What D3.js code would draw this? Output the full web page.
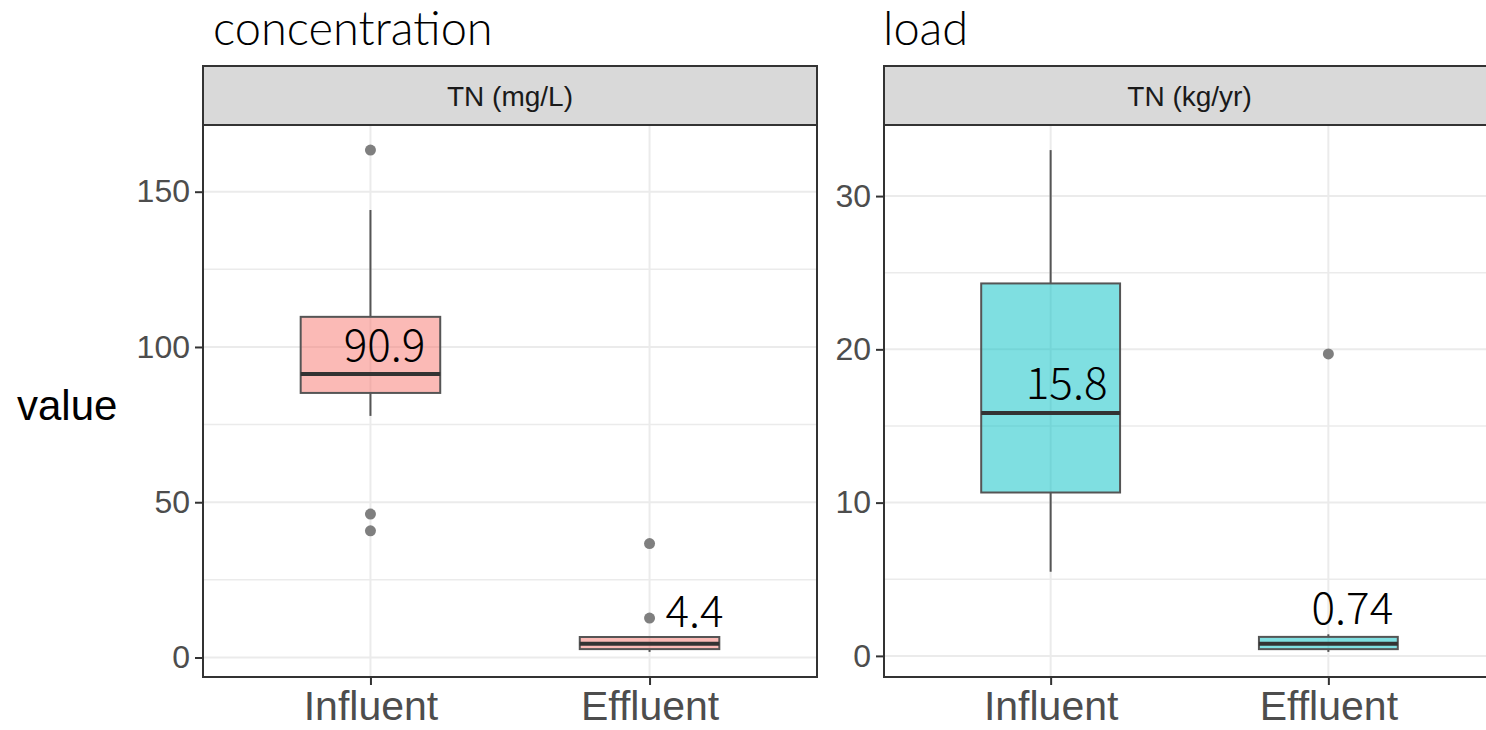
<!DOCTYPE html>
<html>
<head>
<meta charset="utf-8">
<script src="https://cdn.jsdelivr.net/npm/d3@7"></script>
<style>
  body { margin: 0; background: #fff; }
  svg { display: block; }
</style>
</head>
<body>
<svg id="chart" width="1486" height="730"></svg>
<script>
// ---------- DATA ----------
const categories = ["Influent", "Effluent"];

// concentration panel: TN (mg/L)
const concQ1 = [85.2, 2.7];
const concMedian = [91.3, 4.4];
const concQ3 = [109.7, 6.6];
const concWhiskerLow = [77.8, 1.8];
const concWhiskerHigh = [144.1, 6.9];
const concOutliers = [[163.4, 46.2, 40.8], [36.7, 12.7]];
const concLabels = ["90.9", "4.4"];
const concTicks = [0, 50, 100, 150];

// load panel: TN (kg/yr)
const loadQ1 = [10.66, 0.44];
const loadMedian = [15.84, 0.80];
const loadQ3 = [24.3, 1.24];
const loadWhiskerLow = [5.49, 0.26];
const loadWhiskerHigh = [33.0, 1.41];
const loadOutliers = [[], [19.7]];
const loadLabels = ["15.8", "0.74"];
const loadTicks = [0, 10, 20, 30];

// ---------- LAYOUT ----------
const svg = d3.select("#chart");
const panelTop = 125, panelBottom = 677, stripTop = 66;
const CJK = "'Noto Sans CJK SC', 'Noto Sans', sans-serif";
const TITLE = "Lato, 'Noto Sans', sans-serif";
const SANS = "'Liberation Sans', Arial, sans-serif";

const panels = [
  { title: "concentration", titleX: 213, strip: "TN (mg/L)", x0: 203, x1: 817, fill: "#F8766D",
    q1: concQ1, med: concMedian, q3: concQ3, lo: concWhiskerLow, hi: concWhiskerHigh,
    out: concOutliers, labels: concLabels, ticks: concTicks,
    labelDx: [14, 45], labelDy: [13, 17] },
  { title: "load", titleX: 883, strip: "TN (kg/yr)", x0: 884, x1: 1495, fill: "#00BFC4",
    q1: loadQ1, med: loadMedian, q3: loadQ3, lo: loadWhiskerLow, hi: loadWhiskerHigh,
    out: loadOutliers, labels: loadLabels, ticks: loadTicks,
    labelDx: [16, 24], labelDy: [14, 20] }
];

panels.forEach(p => {
  const g = svg.append("g");
  const allVals = [...p.lo, ...p.hi, ...p.out.flat()];
  const mn = d3.min(allVals), mx = d3.max(allVals);
  const pad = (mx - mn) * 0.05;
  const y = d3.scaleLinear().domain([mn - pad, mx + pad]).range([panelBottom, panelTop]);
  const x = d3.scalePoint().domain(categories).range([p.x0, p.x1]).padding(0.6);
  const bw = x.step() * 0.5;

  g.append("rect").attr("x", p.x0).attr("y", panelTop).attr("width", p.x1 - p.x0)
    .attr("height", panelBottom - panelTop).attr("fill", "#fff");

  const step = p.ticks[1] - p.ticks[0];
  const minor = p.ticks.map(t => t + step / 2).filter(v => v > y.domain()[0] && v < y.domain()[1]);
  g.selectAll(".minor").data(minor).join("line")
    .attr("x1", p.x0).attr("x2", p.x1).attr("y1", d => y(d)).attr("y2", d => y(d))
    .attr("stroke", "#EBEBEB").attr("stroke-width", 1.5);
  g.selectAll(".major").data(p.ticks).join("line")
    .attr("x1", p.x0).attr("x2", p.x1).attr("y1", d => y(d)).attr("y2", d => y(d))
    .attr("stroke", "#EBEBEB").attr("stroke-width", 2);
  g.selectAll(".vgrid").data(categories).join("line")
    .attr("x1", d => x(d)).attr("x2", d => x(d)).attr("y1", panelTop).attr("y2", panelBottom)
    .attr("stroke", "#EBEBEB").attr("stroke-width", 2);

  categories.forEach((c, i) => {
    const cx = x(c);
    const bg = g.append("g");
    bg.append("line").attr("x1", cx).attr("x2", cx).attr("y1", y(p.q3[i])).attr("y2", y(p.hi[i]))
      .attr("stroke", "#555").attr("stroke-width", 2);
    bg.append("line").attr("x1", cx).attr("x2", cx).attr("y1", y(p.q1[i])).attr("y2", y(p.lo[i]))
      .attr("stroke", "#555").attr("stroke-width", 2);
    bg.append("rect").attr("x", cx - bw / 2).attr("width", bw)
      .attr("y", y(p.q3[i])).attr("height", y(p.q1[i]) - y(p.q3[i]))
      .attr("fill", p.fill).attr("fill-opacity", 0.5)
      .attr("stroke", "#555").attr("stroke-width", 2);
    bg.append("line").attr("x1", cx - bw / 2).attr("x2", cx + bw / 2)
      .attr("y1", y(p.med[i])).attr("y2", y(p.med[i]))
      .attr("stroke", "#333").attr("stroke-width", 4);
    bg.selectAll("circle").data(p.out[i]).join("circle")
      .attr("cx", cx).attr("cy", d => y(d)).attr("r", 5.5).attr("fill", "#7F7F7F");
    bg.append("text").attr("x", cx + p.labelDx[i]).attr("y", y(p.med[i]) - p.labelDy[i])
      .attr("text-anchor", "middle").attr("font-family", CJK).attr("font-weight", 300)
      .attr("font-size", 44).attr("fill", "#000").text(p.labels[i]);
  });

  g.append("rect").attr("x", p.x0).attr("y", panelTop).attr("width", p.x1 - p.x0)
    .attr("height", panelBottom - panelTop).attr("fill", "none")
    .attr("stroke", "#333").attr("stroke-width", 2);

  g.append("rect").attr("x", p.x0).attr("y", stripTop).attr("width", p.x1 - p.x0)
    .attr("height", panelTop - stripTop).attr("fill", "#D9D9D9")
    .attr("stroke", "#333").attr("stroke-width", 2);
  g.append("text").attr("x", (p.x0 + p.x1) / 2).attr("y", (stripTop + panelTop) / 2)
    .attr("dy", "0.36em").attr("text-anchor", "middle")
    .attr("font-family", SANS).attr("font-size", 28).attr("fill", "#1A1A1A").text(p.strip);

  const ya = g.append("g").attr("transform", `translate(${p.x0},0)`)
    .call(d3.axisLeft(y).tickValues(p.ticks).tickSize(8).tickPadding(5));
  ya.select(".domain").remove();
  ya.selectAll(".tick line").attr("stroke", "#333").attr("stroke-width", 2);
  ya.selectAll(".tick text").attr("font-family", SANS).attr("font-size", 32).attr("fill", "#4D4D4D");

  const xa = g.append("g").attr("transform", `translate(0,${panelBottom})`)
    .call(d3.axisBottom(x).tickSize(8).tickPadding(6));
  xa.select(".domain").remove();
  xa.selectAll(".tick line").attr("stroke", "#333").attr("stroke-width", 2);
  xa.selectAll(".tick text").attr("font-family", SANS).attr("font-size", 41).attr("fill", "#4D4D4D");

  g.append("text").attr("x", p.titleX).attr("y", 45)
    .attr("font-family", TITLE).attr("font-weight", 300).attr("font-size", 47)
    .attr("fill", "#000").text(p.title);
});

svg.append("text").attr("x", 17).attr("y", 405).attr("dy", "0.36em")
  .attr("font-family", SANS).attr("font-size", 42).attr("fill", "#000").text("value");
</script>
</body>
</html>
